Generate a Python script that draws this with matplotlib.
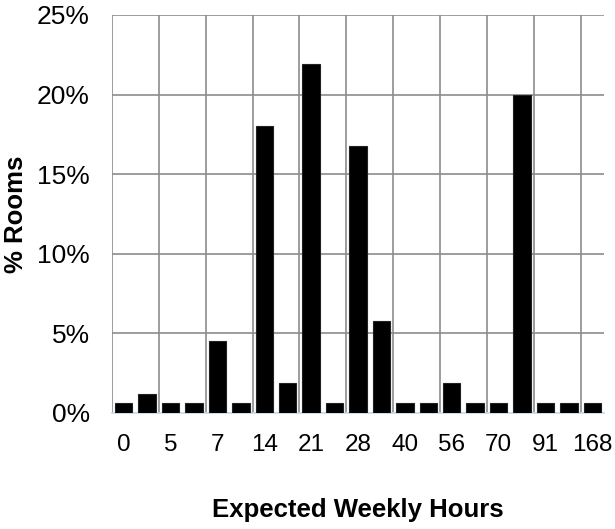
import matplotlib
matplotlib.use("Agg")
import matplotlib.pyplot as plt
import numpy as np

plt.rcParams["font.family"] = ["Liberation Sans", "DejaVu Sans"]

# share of rooms per expected-hours bucket (%)
pct_rooms = [0.6, 1.2, 0.6, 0.6, 4.5, 0.6, 18.0, 1.9, 21.9, 0.6, 16.8,
             5.8, 0.6, 0.6, 1.9, 0.6, 0.6, 20.0, 0.6, 0.6, 0.6]
hour_labels = ["0", "5", "7", "14", "21", "28", "40", "56", "70", "91", "168"]
y_ticks = [0, 5, 10, 15, 20, 25]

fig = plt.figure(figsize=(6.15, 5.29), dpi=100)
ax = fig.add_axes([112 / 615, 1 - 413 / 529, 492 / 615, 398 / 529])

x = np.arange(len(pct_rooms))
ax.bar(x, pct_rooms, width=0.74, color="black", edgecolor="#222222",
       linewidth=0.8, zorder=3)

ax.set_xlim(-0.5, len(pct_rooms) - 0.5)
ax.set_ylim(0, 25)

# grid: horizontal at every 5%, vertical every two bars
for y in y_ticks[1:]:
    ax.axhline(y, color="#8c8c8c", lw=1.2, zorder=1)
for gx in np.arange(-0.5, len(pct_rooms) - 1, 2):
    ax.axvline(gx, color="#8c8c8c", lw=1.2, zorder=1)

ax.set_yticks(y_ticks)
ax.set_yticklabels([f"{v}%" for v in y_ticks])
ax.set_xticks(x[::2])
ax.set_xticklabels(hour_labels)
ax.tick_params(axis="y", length=0, labelsize=19, pad=16)
ax.tick_params(axis="x", length=0, labelsize=17.5, pad=15)

for s in ["top", "right", "left"]:
    ax.spines[s].set_visible(False)
ax.spines["bottom"].set_color("#c8d6ea")
ax.spines["bottom"].set_linewidth(1.2)

ax.set_ylabel("% Rooms", fontsize=18.5, fontweight="bold")
ax.set_xlabel("Expected Weekly Hours", fontsize=18.5, fontweight="bold")
ax.yaxis.set_label_coords(-0.17, 0.5)
ax.xaxis.set_label_coords(0.5, -0.2136)

fig.savefig("out.png", dpi=100)
